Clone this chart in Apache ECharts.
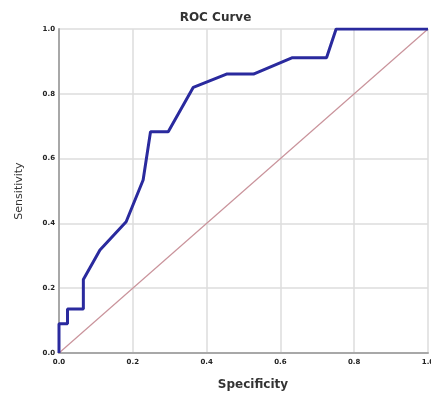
<!DOCTYPE html>
<html>
<head>
<meta charset="utf-8">
<script src="https://cdn.jsdelivr.net/npm/echarts@6/dist/echarts.min.js"></script>
<style>
  html, body { margin: 0; padding: 0; background: #fff; }
  #main { width: 431px; height: 396px; }
</style>
</head>
<body>
<div id="main"></div>
<script>
// ROC curve points (x = 1 - specificity, y = sensitivity)
var rocX = [0, 0, 0.023, 0.023, 0.066, 0.066, 0.111, 0.182, 0.228, 0.248, 0.296, 0.364, 0.454, 0.527, 0.631, 0.725, 0.751, 1.0];
var rocY = [0, 0.09, 0.09, 0.136, 0.136, 0.227, 0.318, 0.405, 0.534, 0.683, 0.683, 0.82, 0.861, 0.861, 0.911, 0.911, 1.0, 1.0];
// reference diagonal
var diagX = [0, 1];
var diagY = [0, 1];

function pairs(xs, ys) {
  return xs.map(function (x, i) { return [x, ys[i]]; });
}

var myChart = echarts.init(document.getElementById('main'));
myChart.setOption({
  backgroundColor: '#fff',
  animation: false,
  title: {
    text: 'ROC Curve',
    left: 'center',
    top: 12,
    padding: 0,
    textStyle: { fontFamily: 'DejaVu Sans', fontWeight: 'bold', fontSize: 12, color: '#333' }
  },
  grid: { left: 59, right: 3, top: 29, bottom: 43, outerBoundsMode: 'none', containLabel: false },
  xAxis: {
    type: 'value',
    min: 0, max: 1, interval: 0.2,
    name: 'Specificity',
    nameLocation: 'middle',
    nameGap: 26,
    nameTextStyle: { fontFamily: 'DejaVu Sans', fontWeight: 'bold', fontSize: 12, color: '#333', padding: [0, 0, 0, 19] },
    axisLine: { show: true, lineStyle: { color: '#a8a8a8', width: 2 } },
    axisTick: { show: false },
    splitLine: { show: true, lineStyle: { color: '#dcdcdc', width: 1.5 } },
    axisLabel: {
      margin: 6,
      fontFamily: 'DejaVu Sans', fontWeight: 'bold', fontSize: 7, color: '#222',
      formatter: function (v) { return v.toFixed(1); }
    }
  },
  yAxis: {
    type: 'value',
    min: 0, max: 1, interval: 0.2,
    name: 'Sensitivity',
    nameLocation: 'middle',
    nameGap: 34,
    nameTextStyle: { fontFamily: 'DejaVu Sans', fontSize: 11, color: '#333' },
    axisLine: { show: true, lineStyle: { color: '#a8a8a8', width: 2 } },
    axisTick: { show: false },
    splitLine: { show: true, lineStyle: { color: '#dcdcdc', width: 1.5 } },
    axisLabel: {
      margin: 4,
      fontFamily: 'DejaVu Sans', fontWeight: 'bold', fontSize: 7, color: '#222',
      formatter: function (v) { return v.toFixed(1); }
    }
  },
  series: [
    {
      name: 'Reference',
      type: 'line',
      data: pairs(diagX, diagY),
      symbol: 'none',
      lineStyle: { color: '#c9939b', width: 1.2 },
      z: 2
    },
    {
      name: 'ROC',
      type: 'line',
      data: pairs(rocX, rocY),
      symbol: 'none',
      lineStyle: { color: '#2a2a9e', width: 3 },
      z: 3
    }
  ]
});
</script>
</body>
</html>
